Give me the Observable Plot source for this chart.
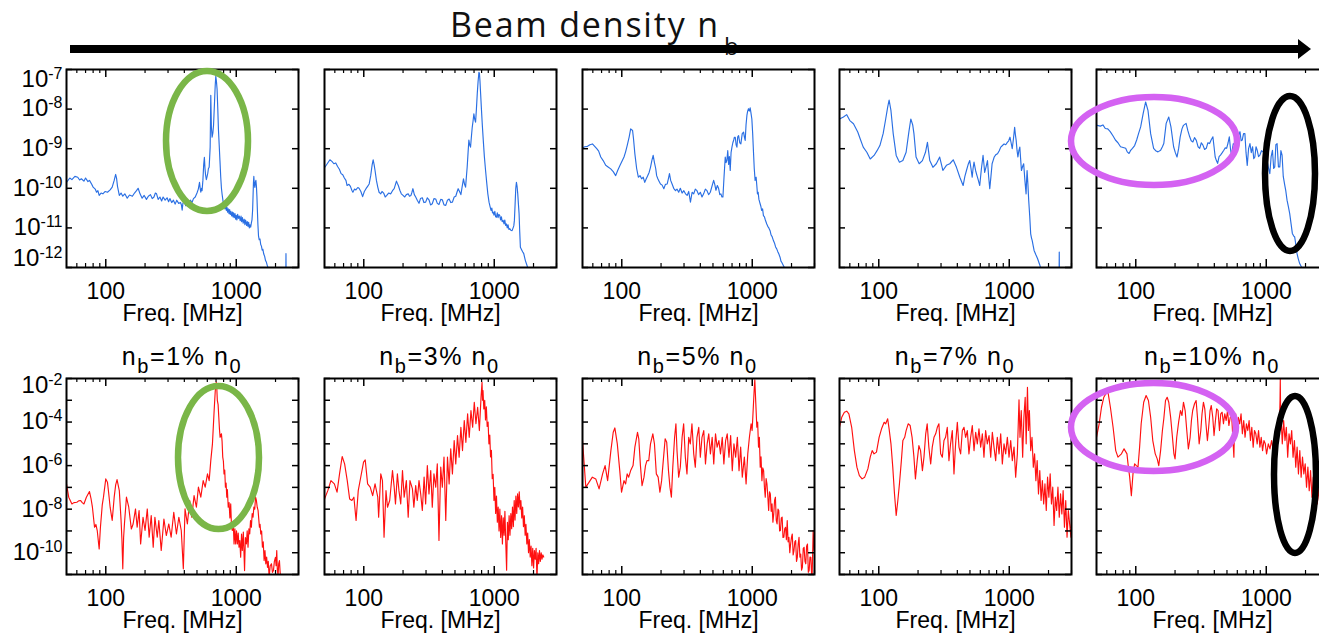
<!DOCTYPE html>
<html><head><meta charset="utf-8">
<script src="https://cdn.jsdelivr.net/npm/d3@7"></script>
<script src="https://cdn.jsdelivr.net/npm/@observablehq/plot@0.6"></script>
<style>
html,body{margin:0;padding:0;background:#fff;overflow:hidden;}
#root{position:relative;width:1319px;height:634px;overflow:hidden;background:#fff;font-family:"Liberation Sans",Arial,Helvetica,sans-serif;}
.panel{position:absolute;}
#overlay{position:absolute;left:0;top:0;pointer-events:none;}
</style></head><body><div id="root"></div>
<script>
// ---------- data ----------
const freqTicksMajor = [100, 1000];
const freqTicksMinor = [60, 70, 80, 90, 200, 300, 400, 500, 600, 700, 800, 900, 2000, 3000];
const freqAxisLabel = "Freq. [MHz]";
const powerTicksTop = [1e-12, 1e-11, 1e-10, 1e-9, 1e-8, 1e-7];
const powerTicksBottom = [1e-11, 1e-10, 1e-9, 1e-8, 1e-7, 1e-6, 1e-5, 1e-4, 1e-3, 1e-2];
const powerLabelsBottom = [1e-10, 1e-8, 1e-6, 1e-4, 1e-2];
const densityLabels = ["1%", "3%", "5%", "7%", "10%"];
const headerTitle = "Beam density n";

// spectra: [frequency MHz, log10 power]
const spectrumTop1 = [[50,-9.85],[53,-9.74],[55,-9.78],[58,-9.70],[61,-9.72],[63,-9.79],[65,-9.76],[68,-9.82],[70,-9.74],[73,-9.83],[75,-9.80],[78,-9.90],[80,-9.97],[83,-10.02],[85,-10.10],[87,-10.06],[89,-10.18],[92,-10.12],[95,-10.14],[99,-10.08],[103,-10.10],[108,-10.04],[112,-9.97],[116,-9.80],[119,-9.65],[121,-9.75],[123,-9.95],[127,-10.18],[131,-10.12],[135,-10.20],[140,-10.14],[146,-10.25],[152,-10.17],[160,-10.20],[166,-10.12],[172,-10.06],[177,-10.00],[183,-10.14],[190,-10.25],[197,-10.18],[205,-10.28],[212,-10.20],[220,-10.16],[227,-10.26],[234,-10.22],[240,-10.12],[245,-10.14],[252,-10.28],[260,-10.22],[268,-10.32],[275,-10.22],[285,-10.30],[295,-10.24],[303,-10.34],[310,-10.26],[320,-10.36],[330,-10.30],[340,-10.40],[350,-10.30],[362,-10.38],[374,-10.36],[380,-10.42],[385,-10.55],[390,-10.38],[400,-10.33],[410,-10.44],[420,-10.38],[432,-10.33],[445,-10.30],[458,-10.36],[470,-10.26],[485,-10.22],[500,-10.12],[512,-10.02],[523,-9.85],[530,-10.02],[535,-10.10],[542,-10.00],[547,-10.06],[555,-9.80],[563,-9.40],[570,-9.22],[576,-9.50],[582,-9.66],[590,-9.78],[598,-9.70],[605,-9.62],[612,-9.50],[620,-9.47],[631,-8.96],[638,-7.65],[645,-8.45],[653,-8.71],[662,-8.60],[670,-8.40],[682,-7.80],[690,-7.40],[697,-7.17],[705,-7.30],[713,-7.50],[722,-8.00],[730,-8.50],[740,-8.90],[750,-9.30],[760,-9.70],[770,-10.00],[779,-10.15],[790,-10.30],[800,-10.42],[810,-10.38],[820,-10.52],[830,-10.44],[840,-10.56],[849,-10.48],[858,-10.60],[868,-10.52],[880,-10.64],[890,-10.54],[900,-10.66],[910,-10.58],[922,-10.70],[935,-10.60],[945,-10.72],[954,-10.62],[965,-10.74],[978,-10.64],[990,-10.78],[1000,-10.68],[1012,-10.80],[1025,-10.66],[1040,-10.76],[1055,-10.70],[1073,-10.82],[1088,-10.70],[1100,-10.84],[1115,-10.74],[1130,-10.88],[1150,-10.78],[1165,-10.92],[1180,-10.80],[1201,-10.94],[1215,-10.84],[1230,-10.96],[1245,-10.86],[1260,-11.00],[1273,-10.92],[1290,-10.98],[1305,-10.88],[1320,-10.80],[1335,-10.55],[1345,-10.20],[1355,-9.85],[1364,-9.70],[1375,-9.90],[1389,-9.98],[1400,-9.85],[1414,-9.80],[1428,-9.95],[1440,-10.20],[1450,-10.50],[1465,-10.90],[1481,-11.20],[1500,-11.30],[1520,-11.28],[1540,-11.42],[1560,-11.46],[1580,-11.56],[1600,-11.54],[1625,-11.66],[1651,-11.72],[1675,-11.82],[1700,-11.86],[1725,-11.94],[1750,-12.00],[1800,-12.20],[2395,-12.60],[2405,-11.65],[2415,-12.60]];

const spectrumTop2 = [[50,-9.48],[52,-9.40],[55,-9.28],[57,-9.32],[59,-9.38],[61,-9.36],[63,-9.45],[65,-9.52],[67,-9.63],[69,-9.66],[71,-9.74],[73,-9.80],[74.5,-9.93],[77,-9.90],[79,-9.95],[81,-10.05],[82.5,-10.10],[85,-10.02],[87,-10.04],[90,-9.98],[92,-10.00],[95,-10.08],[98,-10.21],[101,-10.08],[104,-10.01],[107,-9.95],[110,-9.89],[113,-9.68],[116,-9.40],[118,-9.28],[120,-9.40],[122,-9.55],[125,-9.80],[128,-9.97],[131,-10.10],[135,-10.14],[138,-10.08],[142,-10.12],[146,-10.22],[150,-10.18],[155,-10.12],[161,-10.14],[166,-10.06],[171,-10.01],[175,-9.90],[178,-9.82],[181,-9.88],[184,-9.93],[189,-10.05],[194,-10.14],[200,-10.18],[206,-10.22],[212,-10.16],[219,-10.14],[224,-10.20],[230,-10.18],[234,-10.10],[238,-10.01],[244,-10.16],[250,-10.22],[257,-10.30],[265,-10.38],[272,-10.26],[281,-10.24],[289,-10.36],[298,-10.35],[307,-10.24],[316,-10.29],[325,-10.42],[335,-10.39],[345,-10.26],[356,-10.27],[366,-10.38],[377,-10.41],[389,-10.28],[400,-10.29],[412,-10.42],[425,-10.43],[438,-10.30],[451,-10.27],[464,-10.36],[478,-10.35],[493,-10.22],[507,-10.20],[518,-10.10],[529,-10.01],[542,-10.08],[555,-10.16],[568,-9.95],[581,-9.76],[592,-9.90],[603,-9.97],[612,-9.70],[620,-9.47],[630,-9.10],[639,-8.78],[648,-8.90],[658,-8.96],[668,-8.70],[678,-8.46],[688,-8.30],[698,-8.12],[708,-8.25],[719,-8.33],[730,-8.00],[741,-7.61],[752,-7.30],[763,-7.07],[770,-7.10],[777,-7.28],[786,-7.60],[796,-7.95],[810,-8.40],[824,-8.79],[840,-9.20],[858,-9.55],[875,-9.85],[893,-10.14],[912,-10.35],[932,-10.48],[945,-10.56],[958,-10.50],[970,-10.62],[982,-10.60],[995,-10.68],[1010,-10.58],[1025,-10.72],[1040,-10.73],[1055,-10.62],[1070,-10.74],[1085,-10.66],[1103,-10.69],[1118,-10.80],[1135,-10.72],[1150,-10.84],[1170,-10.81],[1188,-10.90],[1205,-10.80],[1222,-10.94],[1240,-10.90],[1258,-11.00],[1276,-10.92],[1295,-11.04],[1315,-11.02],[1340,-11.06],[1370,-11.07],[1395,-11.00],[1412,-10.95],[1427,-10.81],[1445,-10.40],[1462,-10.00],[1479,-9.85],[1496,-9.95],[1514,-10.14],[1532,-10.40],[1550,-10.64],[1568,-11.10],[1586,-11.49],[1620,-11.55],[1650,-11.60],[1683,-11.65],[1730,-11.82],[1783,-11.95],[1815,-12.03],[1900,-12.30]];

const spectrumTop3 = [[50,-8.98],[52,-8.95],[54.6,-8.94],[57,-8.90],[59.6,-8.88],[62,-8.94],[64.3,-9.00],[66.5,-9.06],[69,-9.21],[72,-9.30],[75.3,-9.42],[78.5,-9.46],[82.3,-9.51],[86,-9.58],[89.8,-9.68],[93,-9.55],[97,-9.42],[101,-9.30],[104,-9.21],[107,-9.08],[110,-8.92],[114,-8.70],[117,-8.50],[121,-8.54],[123,-8.75],[126,-9.13],[130,-9.50],[134,-9.72],[138,-9.68],[142,-9.76],[146,-9.72],[150,-9.85],[154,-9.76],[157,-9.70],[162,-9.60],[166,-9.47],[170,-9.30],[174,-9.17],[178,-9.35],[182,-9.50],[185,-9.68],[189,-9.76],[193,-9.82],[198,-9.89],[204,-9.92],[210,-10.01],[216,-9.90],[223,-9.89],[228,-9.75],[232,-9.63],[237,-9.80],[243,-9.89],[250,-10.00],[258,-10.06],[265,-10.02],[273,-10.10],[281,-10.00],[290,-10.12],[299,-10.06],[308,-10.14],[317,-10.18],[326,-10.08],[336,-10.35],[346,-10.10],[356,-10.14],[366,-10.02],[377,-10.06],[388,-10.16],[400,-10.10],[412,-10.22],[424,-10.14],[437,-10.02],[450,-10.06],[463,-10.16],[477,-10.10],[491,-9.95],[506,-9.80],[516,-9.90],[527,-10.05],[540,-9.93],[552,-10.00],[564,-10.16],[575,-10.14],[586,-10.22],[596,-10.22],[608,-9.70],[621,-9.21],[630,-9.35],[639,-9.30],[649,-9.05],[659,-9.40],[668,-9.20],[678,-9.55],[688,-9.10],[699,-8.96],[710,-8.85],[721,-8.78],[730,-8.71],[741,-8.71],[752,-8.90],[763,-8.96],[774,-8.70],[786,-8.67],[802,-8.85],[818,-8.88],[838,-8.62],[858,-8.58],[870,-8.70],[883,-8.79],[896,-8.40],[910,-8.16],[922,-8.05],[936,-7.99],[950,-8.05],[964,-7.97],[978,-8.10],[993,-8.25],[1007,-8.60],[1021,-9.05],[1036,-9.50],[1052,-9.80],[1071,-9.72],[1085,-9.95],[1096,-10.14],[1110,-10.10],[1125,-10.28],[1149,-10.39],[1165,-10.46],[1180,-10.56],[1200,-10.52],[1218,-10.69],[1240,-10.72],[1260,-10.80],[1292,-10.90],[1315,-10.96],[1340,-11.00],[1370,-11.07],[1395,-11.18],[1420,-11.22],[1453,-11.32],[1480,-11.38],[1510,-11.48],[1540,-11.53],[1570,-11.60],[1600,-11.66],[1633,-11.74],[1660,-11.84],[1690,-11.88],[1731,-11.95],[1781,-12.03],[1850,-12.20]];

const spectrumTop4 = [[50,-8.25],[53.6,-8.20],[56.8,-8.14],[60,-8.29],[64,-8.37],[69,-8.58],[72,-8.75],[76,-8.96],[81,-9.09],[86,-9.26],[92,-9.17],[97,-9.05],[102,-8.92],[108,-8.62],[113,-8.25],[117,-7.95],[120,-7.77],[124,-8.04],[129,-8.62],[136,-9.17],[144,-9.34],[153,-9.30],[162,-9.09],[170,-8.58],[176,-8.25],[182,-8.40],[186,-8.62],[193,-9.21],[204,-9.38],[216,-9.30],[228,-9.09],[236,-8.84],[246,-9.30],[260,-9.47],[276,-9.38],[293,-9.21],[310,-9.55],[330,-9.42],[350,-9.38],[372,-9.28],[394,-9.47],[418,-9.72],[443,-9.93],[457,-9.70],[470,-9.55],[484,-9.40],[498,-9.30],[509,-9.50],[520,-9.72],[528,-9.50],[537,-9.34],[552,-9.55],[566,-9.68],[580,-9.80],[594,-9.93],[612,-9.50],[630,-9.17],[640,-9.40],[648,-9.60],[665,-9.45],[681,-9.30],[695,-9.70],[709,-10.01],[724,-9.70],[739,-9.38],[752,-9.30],[767,-9.21],[790,-9.15],[813,-9.13],[838,-9.05],[861,-8.96],[887,-8.92],[913,-8.88],[940,-8.90],[967,-8.84],[990,-8.80],[1013,-8.71],[1033,-8.85],[1054,-9.00],[1077,-8.75],[1100,-8.46],[1115,-8.65],[1130,-8.79],[1148,-9.05],[1165,-9.21],[1185,-9.05],[1205,-8.96],[1222,-9.25],[1240,-9.55],[1265,-9.45],[1290,-9.38],[1318,-9.80],[1346,-10.14],[1358,-9.80],[1370,-9.55],[1390,-9.90],[1410,-10.31],[1435,-10.70],[1460,-11.15],[1480,-11.25],[1500,-11.32],[1525,-11.45],[1550,-11.57],[1600,-11.68],[1650,-11.78],[1690,-11.88],[1720,-11.95],[1800,-12.20],[2405,-12.60],[2417,-11.61],[2430,-12.60]];

const spectrumTop5 = [[50.6,-8.41],[53.5,-8.43],[56,-8.40],[58.4,-8.49],[61,-8.50],[63.7,-8.57],[67,-8.68],[69.8,-8.78],[73,-8.85],[76.4,-8.95],[80,-8.97],[83.7,-8.99],[86,-9.08],[88.8,-9.12],[91,-9.05],[94.3,-8.99],[98,-8.92],[101.6,-8.78],[105,-8.62],[109,-8.45],[114,-8.11],[119,-7.82],[124,-8.03],[130,-8.62],[137,-8.99],[142,-9.05],[148,-9.08],[155,-9.04],[160,-8.95],[164,-8.87],[171,-8.36],[179,-8.20],[186,-8.45],[195,-8.95],[201,-9.10],[207,-9.21],[213,-9.00],[219,-8.70],[226,-8.50],[232,-8.41],[243,-8.36],[251,-8.55],[259,-8.70],[266,-8.80],[274,-8.83],[282,-8.72],[291,-8.79],[300,-8.95],[309,-8.99],[318,-8.85],[327,-8.91],[337,-9.02],[347,-8.99],[357,-8.85],[368,-8.87],[378,-8.78],[390,-8.70],[398,-8.95],[406,-9.21],[415,-9.30],[424,-9.37],[435,-9.20],[446,-9.16],[460,-9.10],[473,-9.04],[485,-8.98],[497,-8.99],[510,-8.85],[521,-8.70],[532,-9.00],[543,-9.21],[551,-9.00],[559,-8.87],[576,-8.92],[593,-8.95],[610,-8.70],[629,-8.57],[642,-8.80],[655,-8.78],[670,-8.62],[686,-8.62],[700,-9.10],[715,-9.42],[732,-9.00],[750,-8.87],[768,-9.10],[786,-8.95],[802,-9.25],[818,-9.21],[835,-8.95],[853,-9.04],[873,-9.20],[894,-9.16],[920,-9.05],[947,-9.08],[975,-9.15],[1004,-9.21],[1035,-9.45],[1065,-9.63],[1090,-9.20],[1116,-9.04],[1140,-9.50],[1162,-9.46],[1185,-8.90],[1211,-8.87],[1240,-9.46],[1269,-9.46],[1295,-9.05],[1322,-9.16],[1350,-9.70],[1386,-9.92],[1410,-10.05],[1443,-10.30],[1475,-10.45],[1513,-10.64],[1550,-10.90],[1585,-11.14],[1620,-11.20],[1652,-11.23],[1690,-11.45],[1722,-11.65],[1760,-11.78],[1804,-11.90],[1857,-11.98],[1900,-12.20]];

const spectrumBottom1 = [[50,-6.84],[52,-7.45],[55,-7.76],[57,-7.70],[60,-7.68],[62,-7.62],[64,-7.60],[66,-7.70],[68,-7.76],[71,-7.45],[75,-7.19],[77,-7.50],[79,-7.91],[82,-8.83],[84,-8.70],[86,-8.98],[89,-9.83],[91,-8.83],[94,-7.80],[96,-7.45],[100,-6.61],[103,-6.76],[105,-7.20],[108,-7.91],[112,-8.52],[116,-7.45],[119,-6.90],[122,-6.64],[127,-7.15],[131,-8.52],[133,-9.40],[135,-10.74],[137,-9.30],[139,-8.68],[144,-7.45],[150,-7.91],[157,-8.91],[162,-8.68],[169,-7.99],[174,-8.83],[180,-8.06],[185,-9.60],[193,-8.37],[200,-8.98],[208,-7.99],[215,-9.29],[223,-8.29],[231,-9.75],[238,-8.37],[248,-9.29],[255,-8.52],[266,-9.90],[279,-8.45],[291,-9.21],[304,-8.68],[317,-9.29],[332,-8.14],[348,-9.14],[363,-8.37],[379,-8.98],[393,-10.74],[405,-7.99],[422,-8.68],[440,-7.60],[456,-8.37],[475,-7.38],[495,-7.91],[513,-6.99],[535,-7.45],[558,-6.69],[578,-6.99],[602,-6.38],[620,-6.69],[638,-5.77],[657,-5.00],[677,-3.47],[690,-2.60],[697,-2.32],[703,-2.17],[709,-2.40],[716,-3.00],[726,-3.20],[735,-3.78],[743,-4.30],[752,-4.70],[761,-4.60],[770,-4.54],[779,-4.90],[788,-5.61],[797,-5.80],[806,-6.38],[816,-6.20],[826,-6.99],[836,-6.80],[846,-7.45],[855,-7.10],[868,-7.91],[881,-7.70],[894,-8.40],[907,-7.76],[920,-8.83],[934,-8.98],[948,-8.60],[962,-9.60],[976,-8.90],[990,-9.60],[1005,-9.00],[1020,-9.60],[1035,-9.10],[1050,-9.75],[1065,-9.44],[1081,-10.21],[1098,-9.14],[1113,-9.90],[1133,-9.05],[1158,-10.82],[1175,-9.30],[1196,-9.60],[1213,-9.00],[1231,-9.75],[1250,-8.90],[1268,-9.14],[1287,-8.52],[1306,-8.83],[1325,-8.20],[1345,-8.37],[1365,-7.90],[1386,-8.00],[1406,-7.45],[1427,-7.60],[1448,-7.91],[1470,-8.06],[1490,-8.50],[1505,-8.83],[1522,-8.70],[1541,-9.14],[1565,-9.00],[1587,-9.75],[1610,-9.50],[1635,-10.36],[1660,-9.90],[1684,-10.51],[1710,-10.20],[1735,-10.67],[1760,-10.40],[1787,-11.13],[1820,-10.60],[1862,-10.51],[1895,-10.90],[1928,-10.82],[1960,-10.40],[1997,-10.21],[2020,-10.60],[2044,-9.90],[2065,-10.80],[2093,-11.05],[2115,-10.50],[2143,-10.36],[2170,-10.90],[2194,-11.13]];

const spectrumBottom2 = [[50,-7.53],[53,-7.15],[56,-6.69],[59.5,-6.84],[62.4,-7.22],[65.2,-6.38],[68.3,-5.58],[71.3,-5.92],[74.7,-6.69],[77.9,-7.53],[81.1,-7.60],[84,-7.45],[87.3,-8.52],[90.7,-7.15],[95,-6.50],[99.6,-5.84],[102.6,-5.74],[107,-6.84],[112,-6.99],[117,-7.38],[122,-6.84],[128,-7.45],[130,-8.37],[135,-6.38],[139,-6.69],[143,-9.29],[148,-7.15],[152,-7.91],[158,-7.60],[166,-6.23],[171,-6.99],[175,-7.76],[181,-6.38],[186,-7.15],[192,-7.76],[198,-6.23],[204,-7.45],[212,-6.69],[219,-8.37],[226,-6.69],[236,-7.07],[242,-7.91],[250,-6.92],[257,-7.60],[265,-6.69],[273,-7.30],[281,-8.06],[290,-6.53],[298,-7.76],[307,-6.00],[316,-7.30],[326,-6.23],[335,-7.91],[345,-6.38],[356,-6.99],[366,-5.92],[377,-9.44],[389,-6.07],[400,-6.99],[412,-5.61],[425,-8.52],[438,-5.61],[451,-6.84],[464,-5.23],[478,-6.38],[493,-4.85],[507,-5.92],[523,-4.62],[538,-5.61],[555,-4.24],[571,-5.31],[589,-3.93],[606,-4.93],[625,-3.62],[643,-4.70],[663,-3.47],[683,-4.24],[703,-3.09],[724,-4.08],[746,-3.32],[769,-4.39],[792,-2.86],[806,-2.17],[813,-3.00],[820,-2.55],[832,-3.40],[845,-3.00],[857,-3.90],[870,-3.30],[883,-4.20],[897,-4.00],[910,-5.00],[924,-4.60],[937,-5.60],[951,-5.30],[965,-6.60],[980,-6.40],[995,-7.60],[1010,-7.00],[1025,-8.20],[1040,-7.40],[1056,-8.60],[1072,-7.90],[1088,-9.00],[1104,-8.00],[1120,-9.30],[1138,-8.30],[1155,-9.60],[1172,-8.40],[1190,-9.20],[1207,-8.10],[1225,-9.50],[1244,-10.80],[1262,-8.60],[1281,-9.40],[1300,-8.30],[1320,-9.20],[1340,-8.20],[1360,-8.90],[1380,-7.90],[1401,-8.80],[1422,-7.60],[1443,-8.50],[1465,-7.40],[1487,-8.20],[1509,-7.30],[1531,-7.90],[1555,-7.20],[1578,-8.00],[1600,-7.60],[1625,-8.40],[1650,-7.90],[1674,-8.80],[1700,-8.30],[1725,-9.20],[1750,-8.70],[1777,-9.60],[1804,-9.10],[1831,-10.00],[1858,-9.40],[1886,-10.20],[1915,-9.70],[1943,-10.60],[1972,-9.80],[2002,-10.70],[2032,-9.90],[2062,-10.30],[2093,-9.80],[2125,-11.20],[2157,-10.00],[2189,-10.50],[2222,-9.90],[2255,-10.40],[2290,-10.00],[2323,-10.30],[2358,-10.10],[2393,-10.20]];

const spectrumBottom3 = [[50,-4.85],[51.5,-5.92],[53,-6.99],[56.2,-6.76],[59.5,-6.53],[63.2,-6.61],[67,-7.07],[71.3,-6.38],[74.5,-6.00],[77.9,-6.69],[82.5,-5.31],[86,-4.47],[88.5,-4.27],[92.4,-5.00],[96.5,-6.23],[99.6,-7.22],[104,-6.69],[107,-6.84],[110,-6.38],[113,-6.53],[117,-6.23],[122,-6.00],[126,-5.15],[132,-4.47],[135,-4.77],[139,-6.00],[143,-6.92],[148,-6.53],[152,-6.00],[156,-5.77],[161,-5.77],[166,-5.00],[173,-4.54],[178,-5.00],[184,-6.38],[190,-6.53],[196,-7.22],[202,-6.69],[208,-5.77],[215,-4.77],[221,-4.93],[228,-6.23],[234,-6.99],[240,-7.45],[246,-6.07],[254,-4.70],[260,-4.08],[265,-5.31],[273,-6.53],[281,-6.07],[290,-4.70],[298,-4.08],[307,-5.61],[316,-6.38],[326,-4.70],[335,-5.00],[345,-4.08],[356,-5.46],[366,-6.07],[377,-4.70],[389,-4.24],[400,-5.61],[412,-4.70],[425,-4.39],[438,-5.92],[451,-5.00],[464,-4.54],[478,-5.46],[493,-4.70],[507,-5.92],[523,-4.54],[538,-5.15],[555,-4.85],[571,-5.46],[589,-4.70],[606,-5.92],[625,-4.85],[643,-4.54],[663,-5.61],[683,-4.62],[703,-6.23],[724,-5.00],[746,-5.61],[769,-4.70],[792,-6.23],[815,-5.15],[839,-6.53],[870,-5.61],[897,-6.84],[924,-5.46],[951,-4.70],[980,-4.08],[998,-4.39],[1016,-3.47],[1034,-2.55],[1046,-2.06],[1065,-3.16],[1084,-4.24],[1100,-4.00],[1117,-5.15],[1134,-4.70],[1151,-6.07],[1168,-5.60],[1186,-6.69],[1204,-6.10],[1222,-6.23],[1240,-7.00],[1258,-7.45],[1277,-6.60],[1296,-6.84],[1316,-7.40],[1336,-8.06],[1356,-7.20],[1376,-7.30],[1397,-8.10],[1418,-7.76],[1440,-8.60],[1461,-8.22],[1483,-7.60],[1505,-7.45],[1527,-8.50],[1550,-8.68],[1574,-8.00],[1597,-8.06],[1621,-9.00],[1645,-8.98],[1670,-8.40],[1695,-8.37],[1720,-9.30],[1747,-9.29],[1773,-8.90],[1800,-8.83],[1827,-9.40],[1854,-8.52],[1882,-9.50],[1910,-9.29],[1940,-10.00],[1968,-9.60],[1998,-9.30],[2027,-9.14],[2058,-10.10],[2088,-9.90],[2120,-9.50],[2151,-9.44],[2184,-10.40],[2216,-10.21],[2250,-9.60],[2283,-9.29],[2318,-10.20],[2352,-10.06],[2388,-10.80],[2423,-10.67],[2460,-9.80],[2497,-9.75],[2535,-10.40],[2572,-10.51],[2610,-9.70],[2650,-9.60],[2690,-10.90],[2730,-10.82],[2770,-10.20],[2812,-10.21],[2850,-11.00],[2880,-10.97],[2930,-8.98],[2980,-9.90],[3000,-9.29]];

const spectrumBottom4 = [[50,-4.24],[52,-3.78],[54.5,-3.55],[56.8,-3.50],[59,-3.62],[62,-4.24],[65,-5.31],[68,-6.07],[71,-6.46],[74.5,-6.61],[78,-6.53],[82.5,-6.15],[86,-5.61],[89,-5.31],[92,-5.46],[96,-5.38],[100.6,-4.70],[105,-4.31],[110,-4.01],[113,-4.08],[117,-3.85],[120,-4.31],[124,-5.00],[128,-6.07],[132,-7.30],[136,-8.29],[140,-7.60],[144,-6.84],[149,-5.77],[153,-4.85],[158,-4.70],[162,-4.39],[168,-4.08],[174,-4.16],[180,-4.70],[186,-5.61],[191,-6.61],[197,-5.77],[203,-5.08],[209,-5.31],[216,-6.23],[222,-5.61],[229,-4.54],[235,-4.08],[242,-5.15],[250,-5.92],[257,-5.15],[265,-4.70],[273,-4.54],[281,-4.24],[289,-4.08],[298,-5.46],[307,-5.61],[316,-4.85],[325,-4.70],[335,-4.24],[345,-5.77],[355,-5.00],[366,-4.39],[377,-6.38],[388,-5.00],[400,-4.01],[412,-5.15],[424,-5.46],[437,-4.39],[450,-4.24],[463,-4.70],[477,-4.39],[491,-5.46],[506,-4.70],[521,-4.16],[537,-5.31],[553,-4.47],[569,-5.00],[586,-4.31],[604,-5.15],[622,-4.54],[640,-5.61],[659,-4.39],[679,-5.00],[700,-4.62],[721,-5.61],[742,-4.47],[764,-5.15],[787,-5.77],[810,-4.70],[835,-5.46],[860,-4.54],[885,-5.92],[912,-5.00],[939,-5.46],[967,-4.70],[996,-5.61],[1026,-4.85],[1056,-5.77],[1088,-5.15],[1120,-6.53],[1154,-5.46],[1188,-2.98],[1209,-4.70],[1236,-3.47],[1267,-5.61],[1295,-3.78],[1325,-2.86],[1348,-5.00],[1379,-2.40],[1403,-4.39],[1427,-3.47],[1460,-5.31],[1494,-4.70],[1529,-6.07],[1564,-5.46],[1600,-6.69],[1637,-5.77],[1675,-7.30],[1714,-6.23],[1754,-7.60],[1794,-6.69],[1836,-7.76],[1878,-6.84],[1922,-8.06],[1966,-6.53],[2012,-7.45],[2059,-6.38],[2106,-7.76],[2155,-6.99],[2205,-8.75],[2256,-7.45],[2308,-8.06],[2362,-6.99],[2417,-8.37],[2473,-7.30],[2530,-8.22],[2589,-7.15],[2649,-8.83],[2710,-7.60],[2773,-9.29],[2837,-8.06],[2903,-8.68],[2970,-9.29],[3000,-8.37]];

const spectrumBottom5 = [[50,-4.70],[52.4,-4.08],[54.6,-3.32],[56.9,-2.86],[59,-2.70],[61.4,-2.67],[63.9,-3.32],[67,-4.24],[70.2,-5.31],[73,-5.61],[77.7,-5.46],[81.3,-5.23],[85.6,-5.46],[87.2,-5.92],[89.8,-6.53],[92.5,-7.38],[95.2,-6.38],[98,-5.92],[101,-6.00],[104,-6.07],[107,-5.15],[110,-4.08],[115,-3.09],[120,-2.78],[125,-3.01],[130,-3.78],[135,-4.85],[141,-5.46],[146,-5.69],[150,-6.00],[155,-5.31],[160,-4.39],[164,-3.85],[169,-3.01],[174,-2.86],[179,-3.09],[185,-3.78],[190,-4.54],[196,-5.46],[200,-5.69],[206,-4.70],[213,-4.00],[220,-3.47],[226,-3.70],[232,-3.09],[239,-3.47],[246,-4.39],[253,-5.23],[261,-4.70],[267,-3.93],[273,-3.47],[282,-3.16],[290,-3.01],[297,-3.78],[306,-5.00],[315,-4.39],[322,-3.62],[330,-3.09],[338,-3.39],[345,-4.08],[354,-4.85],[362,-4.24],[371,-3.47],[379,-3.24],[389,-3.78],[398,-4.62],[408,-3.93],[417,-3.39],[427,-3.47],[438,-4.39],[448,-3.62],[459,-3.55],[470,-4.08],[481,-3.62],[493,-3.93],[505,-3.47],[517,-4.16],[530,-3.78],[543,-3.70],[556,-4.85],[565,-5.61],[572,-3.90],[583,-3.62],[597,-4.39],[611,-3.78],[626,-4.08],[641,-3.62],[656,-4.54],[672,-3.93],[688,-4.70],[705,-4.08],[722,-4.39],[739,-3.93],[757,-4.85],[775,-4.24],[794,-5.15],[813,-4.39],[832,-4.54],[852,-5.00],[873,-4.39],[894,-5.15],[915,-4.70],[937,-5.31],[960,-4.85],[983,-5.00],[1006,-5.46],[1037,-5.00],[1068,-5.23],[1099,-4.85],[1132,-5.31],[1166,-5.08],[1201,-5.15],[1237,-4.70],[1259,-4.39],[1275,-3.00],[1281,-2.02],[1287,-3.20],[1296,-3.62],[1327,-5.00],[1359,-3.93],[1392,-4.85],[1425,-4.24],[1460,-5.61],[1495,-4.54],[1531,-5.00],[1567,-4.39],[1605,-5.61],[1644,-4.85],[1683,-6.07],[1724,-5.15],[1765,-6.38],[1808,-5.31],[1851,-6.53],[1896,-5.61],[1941,-6.38],[1988,-5.92],[2036,-6.99],[2085,-6.07],[2135,-7.15],[2186,-6.23],[2239,-7.45],[2293,-6.53],[2348,-7.60],[2404,-6.69],[2462,-7.76],[2521,-6.99],[2582,-7.91],[2644,-7.15],[2707,-8.37],[2772,-7.30],[2839,-8.06],[2907,-7.45],[2977,-8.20]];

const topSpectra = [spectrumTop1, spectrumTop2, spectrumTop3, spectrumTop4, spectrumTop5];
const bottomSpectra = [spectrumBottom1, spectrumBottom2, spectrumBottom3, spectrumBottom4, spectrumBottom5];

// ---------- layout ----------
const FONT = '"Liberation Sans", Arial, Helvetica, sans-serif';
const FRAME_W = 232;
const ML = 70, MR = 12, MT = 12, MB = 64;
const frameLefts = [66, 323.5, 581.5, 839, 1096];
const rows = [
  {top: 69, h: 198, domain: [1e-12, 1e-7], ticks: powerTicksTop, labels: powerTicksTop, color: "#2a6fe3", spectra: topSpectra},
  {top: 378, h: 196, domain: [1e-11, 1e-2], ticks: powerTicksBottom, labels: powerLabelsBottom, color: "#ff1010", spectra: bottomSpectra}
];
const root = document.getElementById("root");
const NS = "http://www.w3.org/2000/svg";

function buildPanel(row, col) {
  const data = row.spectra[col].map(([f, e]) => ({f, p: 10 ** e}));
  const W = ML + FRAME_W + MR, H = MT + row.h + MB;
  const first = col === 0;
  const marks = [
    Plot.line(data, {x: "f", y: "p", stroke: row.color, strokeWidth: 1.15, clip: true}),
    Plot.tickX(freqTicksMajor, {x: d => d, insetTop: row.h - 8, strokeWidth: 1.5}),
    Plot.tickX(freqTicksMajor, {x: d => d, insetBottom: row.h - 8, strokeWidth: 1.5}),
    Plot.tickX(freqTicksMinor, {x: d => d, insetTop: row.h - 4, strokeWidth: 1.2}),
    Plot.tickX(freqTicksMinor, {x: d => d, insetBottom: row.h - 4, strokeWidth: 1.2}),
    Plot.tickY(row.ticks, {y: d => d, insetRight: FRAME_W - 6, strokeWidth: 1.5}),
    Plot.tickY(row.ticks, {y: d => d, insetLeft: FRAME_W - 6, strokeWidth: 1.5}),
    Plot.frame({stroke: "#000", strokeWidth: 2}),
    Plot.axisX({ticks: freqTicksMajor, tickSize: 0, tickPadding: 15, tickFormat: d => String(d), label: null}),
    Plot.text([freqAxisLabel], {text: d => d, frameAnchor: "bottom", lineAnchor: "top", dy: 37})
  ];
  if (first) {
    marks.push(Plot.axisY({ticks: row.labels, tickSize: 0, tickPadding: 4, label: null,
      tickFormat: d => String(Math.round(Math.log10(d)))}));
  }
  const svg = Plot.plot({
    width: W, height: H,
    marginLeft: ML, marginRight: MR, marginTop: MT, marginBottom: MB,
    style: {background: "transparent", overflow: "visible", maxWidth: "none", fontFamily: FONT, fontSize: "23px", color: "#000"},
    x: {type: "log", domain: [50, 3000], label: null},
    y: first ? {type: "log", domain: row.domain, label: null} : {type: "log", domain: row.domain, axis: null},
    marks
  });
  if (first) {
    const maxE = Math.round(Math.log10(row.domain[1]));
    const minE = Math.round(Math.log10(row.domain[0]));
    const texts = svg.querySelectorAll('g[aria-label="y-axis tick label"] text');
    texts.forEach(t => {
      const e = t.textContent.trim();
      const ev = +e;
      t.textContent = "";
      const base = document.createElementNS(NS, "tspan");
      base.textContent = "10";
      base.setAttribute("font-size", "24");
      const sup = document.createElementNS(NS, "tspan");
      sup.setAttribute("dy", "-8");
      sup.setAttribute("font-size", "16");
      sup.textContent = e;
      t.append(base, sup);
      let shift = 0;
      if (ev === maxE) shift = row.h > 197 ? 10 : 7;
      if (ev === minE) shift = -9;
      if (shift) t.setAttribute("transform", (t.getAttribute("transform") || "") + ` translate(0,${shift})`);
    });
  }
  const div = document.createElement("div");
  div.className = "panel";
  div.style.left = (frameLefts[col] - ML) + "px";
  div.style.top = (row.top - MT) + "px";
  div.style.width = W + "px";
  div.style.height = H + "px";
  div.appendChild(svg);
  root.appendChild(div);
}

rows.forEach(row => frameLefts.forEach((_, c) => buildPanel(row, c)));

// ---------- overlay: header, arrow, panel titles, annotation ellipses ----------
const titles = densityLabels.map((lab, i) => {
  const cx = frameLefts[i] + FRAME_W / 2;
  return `<text x="${cx}" y="364.5" text-anchor="middle" font-family='${FONT}' font-size="25" letter-spacing="1.6" fill="#000">n<tspan dy="8" font-size="20">b</tspan><tspan dy="-8" font-size="25">=${lab} n</tspan><tspan dy="8" font-size="20">0</tspan></text>`;
}).join("");
const overlay = `<svg id="overlay" width="1319" height="634" xmlns="${NS}">
  <text x="450" y="37" font-family="'Open Sans', 'Noto Sans', sans-serif" font-size="34" textLength="268" lengthAdjust="spacing" fill="#111">${headerTitle}</text>
  <text x="724" y="55" font-family="'Open Sans', 'Noto Sans', sans-serif" font-size="24" fill="#111">b</text>
  <rect x="70" y="45" width="1231" height="8" fill="#000"/>
  <polygon points="1298,39 1311,49 1298,59" fill="#000"/>
  ${titles}
  <g fill="none" stroke-width="6.5">
    <ellipse cx="207" cy="141" rx="41" ry="70" stroke="#7ab648"/>
    <ellipse cx="218.5" cy="457.5" rx="40.5" ry="71.5" stroke="#7ab648"/>
    <ellipse cx="1154" cy="141" rx="83" ry="44" stroke="#d462f2"/>
    <ellipse cx="1153.5" cy="427" rx="82.5" ry="44" stroke="#d462f2"/>
    <ellipse cx="1290" cy="173.5" rx="25" ry="77.5" stroke="#000"/>
    <ellipse cx="1295" cy="474.5" rx="21" ry="78.5" stroke="#000"/>
  </g>
</svg>`;
root.insertAdjacentHTML("beforeend", overlay);
</script></body></html>
